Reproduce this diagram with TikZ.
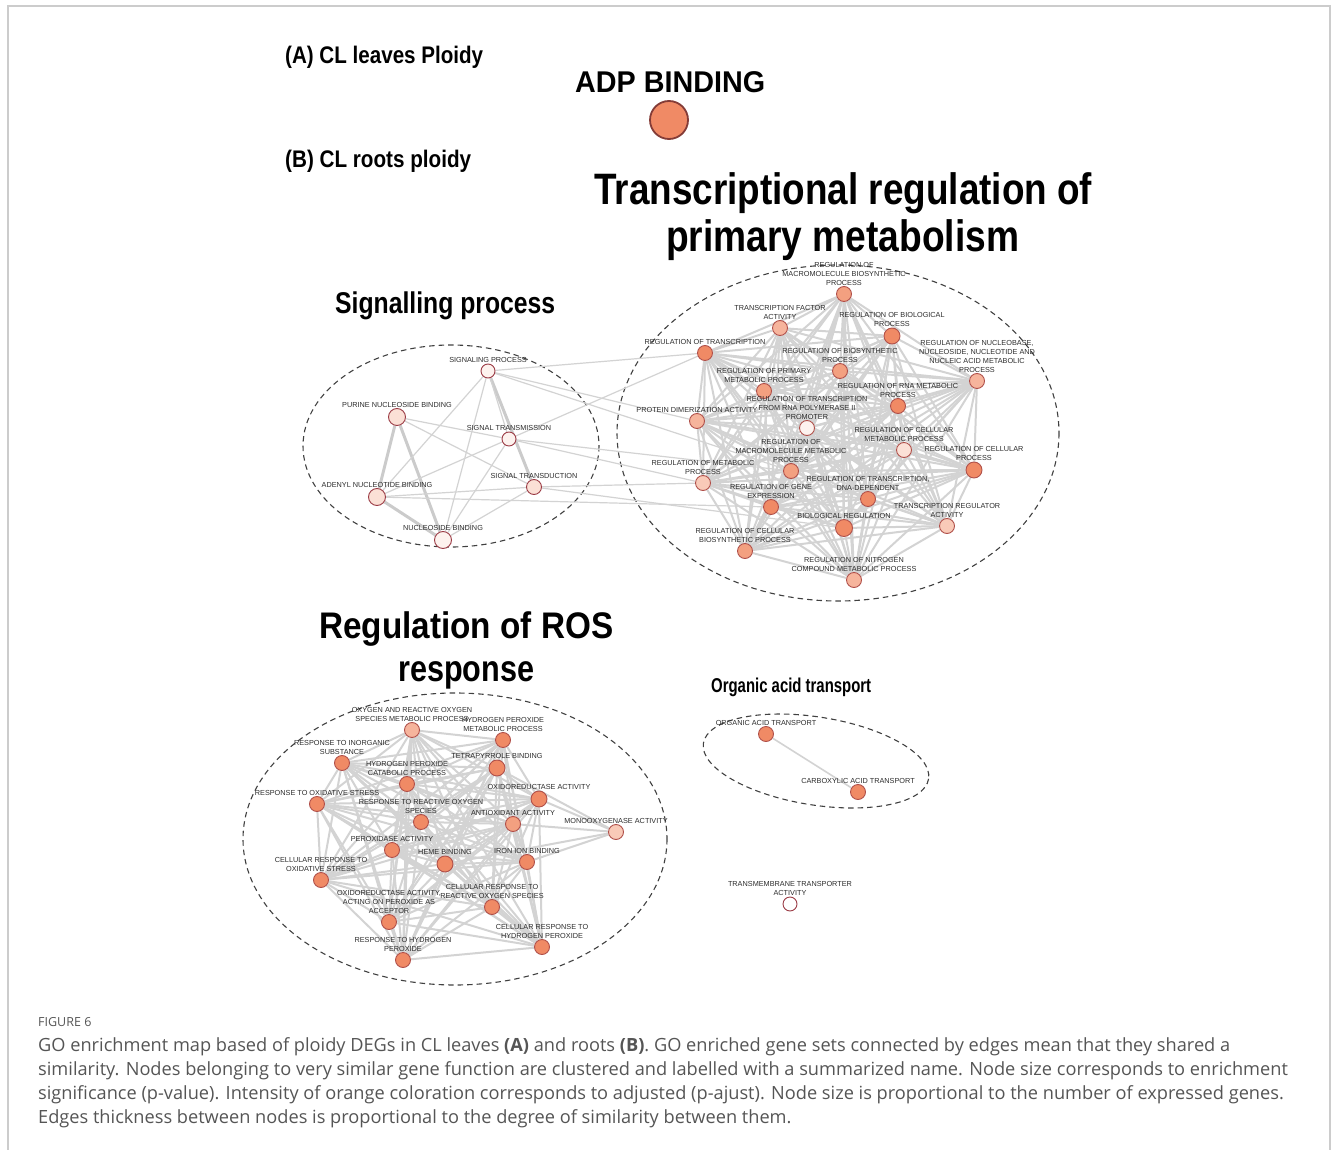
\documentclass[tikz,border=0pt]{standalone}
\usepackage{fontspec}
\usepackage{graphicx}
\setmainfont{Liberation Sans}
\newfontfamily\capfont{Open Sans}
\usetikzlibrary{backgrounds}
\definecolor{oA}{HTML}{F08A65}
\definecolor{oB}{HTML}{F3A080}
\definecolor{oC}{HTML}{F6B49C}
\definecolor{oD}{HTML}{F9CAB8}
\definecolor{oE}{HTML}{FBE0D6}
\definecolor{oF}{HTML}{FDF2EE}
\definecolor{nodeedge}{HTML}{B0504A}
\definecolor{sigedge}{HTML}{9B3B45}
\definecolor{edgegray}{HTML}{D3D3D3}
\definecolor{clustgray}{HTML}{404040}
\definecolor{labtext}{HTML}{2C2C2C}
\definecolor{captext}{HTML}{555555}
\definecolor{framegray}{HTML}{CCCCCC}
\newcommand\fitw[2]{\resizebox{#1}{\height}{#2}}
\tikzset{
  go/.style={circle, draw=nodeedge, line width=0.9pt, minimum size=15pt, inner sep=0pt},
  sig/.style={circle, draw=sigedge, line width=0.9pt, minimum size=15pt, inner sep=0pt},
  lab/.style={font=\fontsize{7.3}{8.9}\selectfont, text=labtext, align=center, inner sep=0.6pt},
  edge/.style={draw=edgegray, line width=2pt},
  thinedge/.style={draw=edgegray, line width=1.2pt},
  thickedge/.style={draw=edgegray!90!gray, line width=3pt},
  cluster/.style={draw=clustgray, dash pattern=on 5.5pt off 4pt, line width=1.1pt},
  title/.style={anchor=base west, inner sep=0pt, text=black},
}
\begin{document}
\begin{tikzpicture}[x=1pt,y=-1pt]
\useasboundingbox (0,0) rectangle (1331,1150);
\draw[framegray, line width=1.5pt] (8,1150) -- (8,6) -- (1330,6) -- (1330,1150);

% ---------- titles ----------
\node[title] (tA) at (285,64) {\fitw{198pt}{\fontsize{24}{24}\selectfont\bfseries (A) CL leaves Ploidy}};
\node[title] (tB) at (285,168) {\fitw{186pt}{\fontsize{24}{24}\selectfont\bfseries (B) CL roots ploidy}};
\node[title] (tADP) at (575,93) {\fitw{190pt}{\fontsize{30}{30}\selectfont\bfseries ADP BINDING}};
\node[title] (tT1) at (594,205) {\fitw{498pt}{\fontsize{44}{44}\selectfont\bfseries Transcriptional regulation of}};
\node[title] (tT2) at (666,252) {\fitw{353pt}{\fontsize{44}{44}\selectfont\bfseries primary metabolism}};
\node[title] (tS) at (335,314) {\fitw{220pt}{\fontsize{30}{30}\selectfont\bfseries Signalling process}};
\node[title] (tR1) at (319,638) {\fitw{294pt}{\fontsize{37}{37}\selectfont\bfseries Regulation of ROS}};
\node[title] (tR2) at (398,681) {\fitw{136pt}{\fontsize{37}{37}\selectfont\bfseries response}};
\node[title] (tO) at (711,692) {\fitw{160pt}{\fontsize{20}{20}\selectfont\bfseries Organic acid transport}};

% ---------- ADP ----------
\node[circle, draw=nodeedge!75!black, line width=1.8pt, fill=oA, minimum size=38pt, inner sep=0pt] (adp) at (669,120) {};

% ---------- transcriptional cluster ----------
\node[go, fill=oB, label={[lab]above:{REGULATION OF\\MACROMOLECULE BIOSYNTHETIC\\PROCESS}}] (t1) at (844,294) {};
\node[go, fill=oC, label={[lab]above:{TRANSCRIPTION FACTOR\\ACTIVITY}}] (t2) at (780,328) {};
\node[go, fill=oA, minimum size=16pt, label={[lab]above:{REGULATION OF BIOLOGICAL\\PROCESS}}] (t3) at (892,336) {};
\node[go, fill=oA, label={[lab]above:{REGULATION OF TRANSCRIPTION}}] (t4) at (705,353) {};
\node[go, fill=oB, label={[lab]above:{REGULATION OF BIOSYNTHETIC\\PROCESS}}] (t5) at (840,371) {};
\node[go, fill=oC, label={[lab]above:{REGULATION OF NUCLEOBASE,\\NUCLEOSIDE, NUCLEOTIDE AND\\NUCLEIC ACID METABOLIC\\PROCESS}}] (t6) at (977,381) {};
\node[go, fill=oB, label={[lab]above:{REGULATION OF PRIMARY\\METABOLIC PROCESS}}] (t7) at (764,391) {};
\node[go, fill=oA, label={[lab]above:{REGULATION OF RNA METABOLIC\\PROCESS}}] (t8) at (898,406) {};
\node[go, fill=oC, label={[lab]above:{PROTEIN DIMERIZATION ACTIVITY}}] (t9) at (697,421) {};
\node[go, fill=oF, label={[lab]above:{REGULATION OF TRANSCRIPTION\\FROM RNA POLYMERASE II\\PROMOTER}}] (t10) at (807,428) {};
\node[go, fill=oE, label={[lab]above:{REGULATION OF CELLULAR\\METABOLIC PROCESS}}] (t11) at (904,450) {};
\node[go, fill=oA, minimum size=16pt, label={[lab]above:{REGULATION OF CELLULAR\\PROCESS}}] (t12) at (974,470) {};
\node[go, fill=oB, label={[lab]above:{REGULATION OF\\MACROMOLECULE METABOLIC\\PROCESS}}] (t13) at (791,471) {};
\node[go, fill=oD, label={[lab]above:{REGULATION OF METABOLIC\\PROCESS}}] (t14) at (703,483) {};
\node[go, fill=oA, label={[lab]above:{REGULATION OF TRANSCRIPTION,\\DNA-DEPENDENT}}] (t15) at (868,499) {};
\node[go, fill=oA, label={[lab]above:{REGULATION OF GENE\\EXPRESSION}}] (t16) at (771,507) {};
\node[go, fill=oA, minimum size=17pt, label={[lab]above:{BIOLOGICAL REGULATION}}] (t17) at (844,528) {};
\node[go, fill=oD, label={[lab]above:{TRANSCRIPTION REGULATOR\\ACTIVITY}}] (t18) at (947,526) {};
\node[go, fill=oB, label={[lab]above:{REGULATION OF CELLULAR\\BIOSYNTHETIC PROCESS}}] (t19) at (745,551) {};
\node[go, fill=oC, label={[lab]above:{REGULATION OF NITROGEN\\COMPOUND METABOLIC PROCESS}}] (t20) at (854,580) {};

% ---------- signalling cluster ----------
\node[sig, fill=oF, minimum size=14pt, label={[lab]above:{SIGNALING PROCESS}}] (s1) at (488,371) {};
\node[sig, fill=oE, minimum size=17pt, label={[lab]above:{PURINE NUCLEOSIDE BINDING}}] (s2) at (397,417) {};
\node[sig, fill=oF, minimum size=14pt, label={[lab]above:{SIGNAL TRANSMISSION}}] (s3) at (509,439) {};
\node[sig, fill=oE, minimum size=15pt, label={[lab]above:{SIGNAL TRANSDUCTION}}] (s4) at (534,487) {};
\node[sig, fill=oE, minimum size=17pt, label={[lab]above:{ADENYL NUCLEOTIDE BINDING}}] (s5) at (377,497) {};
\node[sig, fill=oF, minimum size=17pt, label={[lab]above:{NUCLEOSIDE BINDING}}] (s6) at (443,540) {};

% ---------- ROS cluster ----------
\node[go, fill=oC, label={[lab]above:{OXYGEN AND REACTIVE OXYGEN\\SPECIES METABOLIC PROCESS}}] (r1) at (412,730) {};
\node[go, fill=oA, label={[lab]above:{HYDROGEN PEROXIDE\\METABOLIC PROCESS}}] (r2) at (503,740) {};
\node[go, fill=oA, label={[lab]above:{RESPONSE TO INORGANIC\\SUBSTANCE}}] (r3) at (342,763) {};
\node[go, fill=oA, minimum size=16pt, label={[lab]above:{TETRAPYRROLE BINDING}}] (r4) at (497,768) {};
\node[go, fill=oA, label={[lab]above:{HYDROGEN PEROXIDE\\CATABOLIC PROCESS}}] (r5) at (407,784) {};
\node[go, fill=oA, label={[lab]above:{RESPONSE TO OXIDATIVE STRESS}}] (r6) at (317,804) {};
\node[go, fill=oA, minimum size=16pt, label={[lab]above:{OXIDOREDUCTASE ACTIVITY}}] (r7) at (539,799) {};
\node[go, fill=oA, label={[lab]above:{RESPONSE TO REACTIVE OXYGEN\\SPECIES}}] (r8) at (421,822) {};
\node[go, fill=oB, label={[lab]above:{ANTIOXIDANT ACTIVITY}}] (r9) at (513,824) {};
\node[go, fill=oD, label={[lab]above:{MONOOXYGENASE ACTIVITY}}] (r10) at (616,832) {};
\node[go, fill=oA, label={[lab]above:{PEROXIDASE ACTIVITY}}] (r11) at (392,850) {};
\node[go, fill=oA, minimum size=16pt, label={[lab]above:{HEME BINDING}}] (r12) at (445,864) {};
\node[go, fill=oA, label={[lab]above:{IRON ION BINDING}}] (r13) at (527,862) {};
\node[go, fill=oA, label={[lab]above:{CELLULAR RESPONSE TO\\OXIDATIVE STRESS}}] (r14) at (321,880) {};
\node[go, fill=oA, label={[lab]above:{CELLULAR RESPONSE TO\\REACTIVE OXYGEN SPECIES}}] (r15) at (492,907) {};
\node[go, fill=oA, label={[lab]above:{OXIDOREDUCTASE ACTIVITY,\\ACTING ON PEROXIDE AS\\ACCEPTOR}}] (r16) at (389,922) {};
\node[go, fill=oA, label={[lab]above:{CELLULAR RESPONSE TO\\HYDROGEN PEROXIDE}}] (r17) at (542,947) {};
\node[go, fill=oA, label={[lab]above:{RESPONSE TO HYDROGEN\\PEROXIDE}}] (r18) at (403,960) {};

% ---------- organic acid cluster ----------
\node[go, fill=oA, label={[lab]above:{ORGANIC ACID TRANSPORT}}] (o1) at (766,734) {};
\node[go, fill=oA, label={[lab]above:{CARBOXYLIC ACID TRANSPORT}}] (o2) at (858,792) {};
\node[sig, fill=white, minimum size=14pt, label={[lab]above:{TRANSMEMBRANE TRANSPORTER\\ACTIVITY}}] (o3) at (790,904) {};

% ---------- caption ----------
\node[anchor=base west, inner sep=0pt, text=captext, font=\capfont\fontsize{12.5}{12.5}\selectfont] (figno) at (38,1026) {FIGURE 6};
\node[anchor=north west, inner sep=0pt, text=captext, align=left,
      font=\capfont\fontsize{18.2}{24}\selectfont] (cap) at (38,1037)
 {GO enrichment map based of ploidy DEGs in CL leaves \textbf{(A)} and roots \textbf{(B)}. GO enriched gene sets connected by edges mean that they shared a\\
  similarity. Nodes belonging to very similar gene function are clustered and labelled with a summarized name. Node size corresponds to enrichment\\
  significance (p-value). Intensity of orange coloration corresponds to adjusted (p-ajust). Node size is proportional to the number of expressed genes.\\
  Edges thickness between nodes is proportional to the degree of similarity between them.};

% ---------- edges and cluster outlines ----------
\begin{scope}[on background layer]
  \draw[cluster] (838,433) ellipse [x radius=221, y radius=168];
  \draw[cluster] (451,446) ellipse [x radius=148, y radius=101];
  \draw[cluster] (455,839) ellipse [x radius=212, y radius=146];
  \draw[cluster, rotate around={-9:(816,761)}] (816,761) ellipse [x radius=114, y radius=44];

  \foreach \i in {1,...,19}{
    \pgfmathtruncatemacro\ni{\i+1}
    \foreach \j in {\ni,...,20}{ \draw[edge] (t\i) -- (t\j); }
  }
  \foreach \i in {1,...,9,11,12,...,18}{
    \foreach \j in {1,...,9,11,12,...,18}{
      \ifnum\i<\j \draw[edge] (r\i) -- (r\j);\fi
    }
  }
  \foreach \j in {4,7,9,12,13}{ \draw[edge] (r10) -- (r\j); }

  \draw[thickedge] (s1) -- (s4);
  \draw[thickedge] (s2) -- (s5);
  \draw[thickedge] (s2) -- (s6);
  \draw[thickedge] (s5) -- (s6);
  \foreach \a/\b in {s1/s5, s1/s6, s1/s3, s2/s3, s2/s4, s5/s3, s5/s4, s6/s3, s6/s4,
                     s1/t4, s1/t9, s1/t13, s3/t4, s3/t13, s3/t14, s4/t14, s4/t17, s5/t16}
    { \draw[thinedge] (\a) -- (\b); }
  \draw[draw=edgegray, line width=1.6pt] (o1) -- (o2);
\end{scope}
\end{tikzpicture}
\end{document}
